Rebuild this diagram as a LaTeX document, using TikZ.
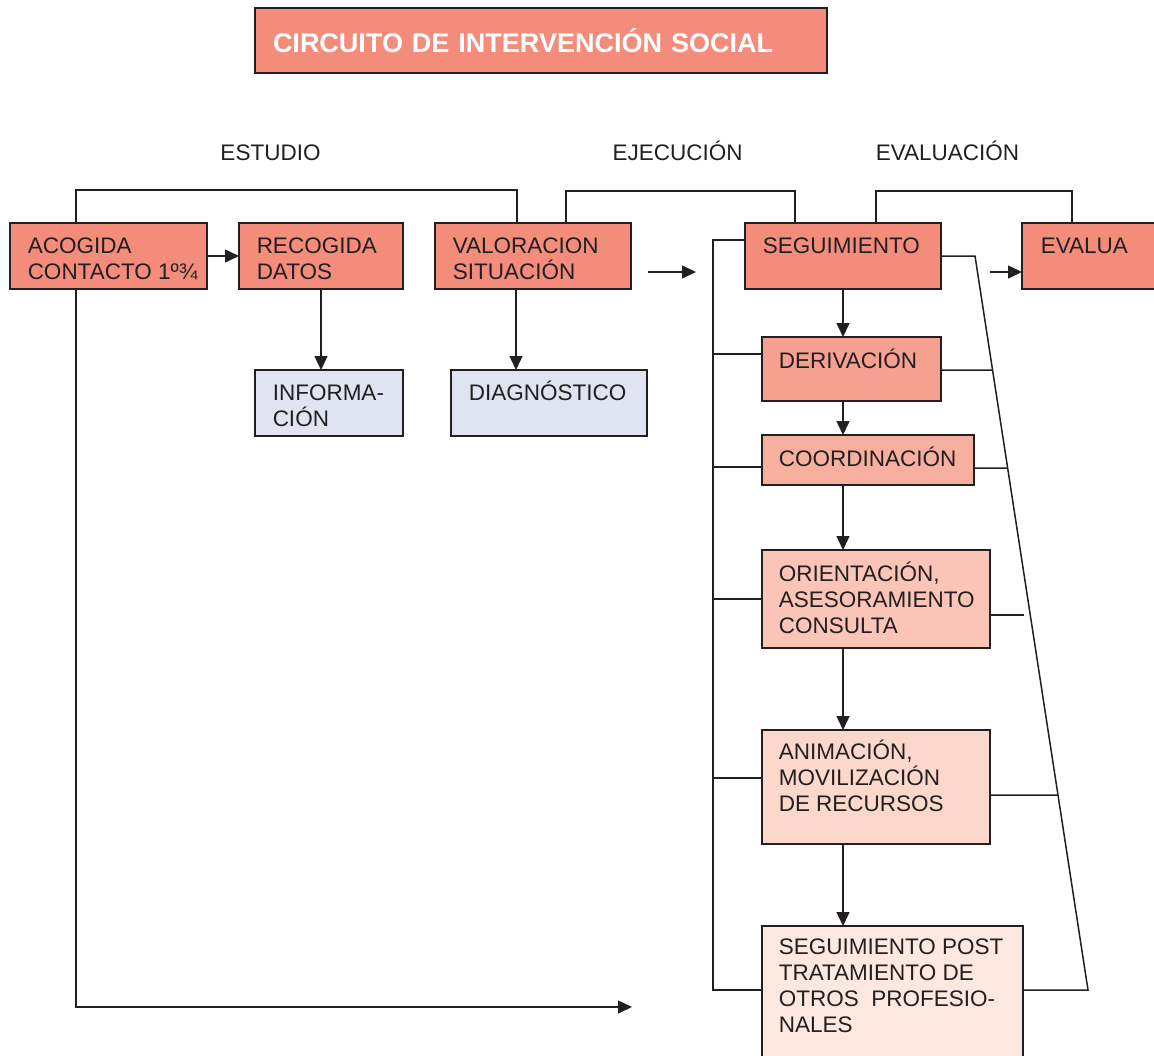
\documentclass[tikz,border=0pt]{standalone}
\usepackage{fontspec}
\setmainfont{Liberation Sans}
\usetikzlibrary{arrows.meta,intersections}

\definecolor{ink}{HTML}{231F20}
\definecolor{salmon}{HTML}{F48C7C}
\definecolor{tintA}{HTML}{F5A090}
\definecolor{tintB}{HTML}{F7B09F}
\definecolor{tintC}{HTML}{FAC4B6}
\definecolor{tintD}{HTML}{FCD8CC}
\definecolor{tintE}{HTML}{FDE8E0}
\definecolor{lavender}{HTML}{E0E3F1}

\begin{document}
\begin{tikzpicture}[x=1pt, y=1pt, line width=1.5pt, draw=ink,
  box/.style={draw=ink, line width=1.6pt, anchor=north west, inner sep=0pt, outer sep=0pt},
  txt/.style={anchor=north west, inner sep=0pt, align=left, text=ink,
              font=\fontsize{22.5}{26}\selectfont},
  stage/.style={anchor=base, inner sep=0pt, text=ink, font=\fontsize{22.5}{26}\selectfont},
  arr/.style={-{Triangle[length=14pt,width=13pt]}},
]
\useasboundingbox (0,0) rectangle (1154,-1055);
\clip (0,0) rectangle (1154,-1055);

% title
\node[box, fill=salmon, minimum width=572pt, minimum height=65pt, text width=536pt,
      inner xsep=18pt, align=left, text=white,
      font=\bfseries\fontsize{27}{30}\selectfont] (title) at (255,-8)
      {CIRCUITO DE INTERVENCIÓN SOCIAL};

% phase labels
\node[stage] (estudio) at (270.5,-160) {ESTUDIO};
\node[stage] (ejecucion) at (677.5,-160) {EJECUCIÓN};
\node[stage] (evaluacion) at (947.5,-160) {EVALUACIÓN};

% top row
\node[box, fill=salmon, minimum width=197pt, minimum height=66pt] (acogida) at (10,-223) {};
\node[txt] (acogida-t) at ([shift={(17,-6)}]acogida.north west) {\rule{0pt}{24pt}ACOGIDA\\CONTACTO 1º¾};
\node[box, fill=salmon, minimum width=164pt, minimum height=66pt] (recogida) at (239,-223) {};
\node[txt] (recogida-t) at ([shift={(17,-6)}]recogida.north west) {\rule{0pt}{24pt}RECOGIDA\\DATOS};
\node[box, fill=salmon, minimum width=196pt, minimum height=66pt] (valoracion) at (435,-223) {};
\node[txt] (valoracion-t) at ([shift={(17,-6)}]valoracion.north west) {\rule{0pt}{24pt}VALORACION\\SITUACIÓN};
\node[box, fill=salmon, minimum width=196pt, minimum height=66pt] (seguimiento) at (745,-223) {};
\node[txt] (seguimiento-t) at ([shift={(17,-6)}]seguimiento.north west) {\rule{0pt}{24pt}SEGUIMIENTO};
\node[box, fill=salmon, minimum width=160pt, minimum height=66pt] (evalua) at (1022,-223) {};
\node[txt] (evalua-t) at ([shift={(18,-6)}]evalua.north west) {\rule{0pt}{24pt}EVALUA};

% study results
\node[box, fill=lavender, minimum width=148pt, minimum height=66pt] (informacion) at (255,-370) {};
\node[txt] (informacion-t) at ([shift={(17,-6)}]informacion.north west) {\rule{0pt}{24pt}INFORMA-\\CIÓN};
\node[box, fill=lavender, minimum width=196pt, minimum height=66pt] (diagnostico) at (451,-370) {};
\node[txt] (diagnostico-t) at ([shift={(17,-6)}]diagnostico.north west) {\rule{0pt}{24pt}DIAGNÓSTICO};

% execution column
\node[box, fill=tintA, minimum width=179pt, minimum height=64pt] (derivacion) at (762,-337) {};
\node[txt] (derivacion-t) at ([shift={(16,-7)}]derivacion.north west) {\rule{0pt}{24pt}DERIVACIÓN};
\node[box, fill=tintB, minimum width=212pt, minimum height=50pt] (coordinacion) at (762,-435) {};
\node[txt] (coordinacion-t) at ([shift={(16,-7)}]coordinacion.north west) {\rule{0pt}{24pt}COORDINACIÓN};
\node[box, fill=tintC, minimum width=228pt, minimum height=98pt] (orientacion) at (762,-550) {};
\node[txt] (orientacion-t) at ([shift={(16,-7)}]orientacion.north west) {\rule{0pt}{24pt}ORIENTACIÓN,\\ASESORAMIENTO\\CONSULTA};
\node[box, fill=tintD, minimum width=228pt, minimum height=114pt] (animacion) at (762,-730) {};
\node[txt] (animacion-t) at ([shift={(16,-5)}]animacion.north west) {\rule{0pt}{24pt}ANIMACIÓN,\\MOVILIZACIÓN\\DE RECURSOS};
\node[box, fill=tintE, minimum width=261pt, minimum height=150pt] (segpost) at (762,-926) {};
\node[txt] (segpost-t) at ([shift={(16,-4)}]segpost.north west) {\rule{0pt}{24pt}SEGUIMIENTO POST\\TRATAMIENTO DE\\OTROS~~PROFESIO-\\NALES};

% phase brackets
\draw ([xshift=66pt]acogida.north west) -- ++(0,33) -| ([xshift=82pt]valoracion.north west);
\draw ([xshift=131pt]valoracion.north west) -- ++(0,32) -| ([xshift=50pt]seguimiento.north west);
\draw ([xshift=131pt]seguimiento.north west) -- ++(0,32) -| ([xshift=50pt]evalua.north west);

% study flow
\draw[arr] (acogida.east) -- (recogida.west);
\draw[arr] (recogida.south) -- (recogida.south |- informacion.north);
\coordinate (va) at ([xshift=81pt]valoracion.south west);
\draw[arr] (va) -- (va |- diagnostico.north);
\coordinate (fa1) at (648,-272);
\coordinate (fa1e) at (696,-272);
\draw[arr] (fa1) -- (fa1e);
\coordinate (fa2) at (990,-272);
\draw[arr] (fa2) -- (fa2 -| evalua.west);
\coordinate (loopend) at (632,-1007);
\draw[arr] ([xshift=66pt]acogida.south west) |- (loopend);

% execution chain
\coordinate (axis) at (seguimiento.south);
\draw[arr] (axis) -- (axis |- derivacion.north);
\draw[arr] (axis |- derivacion.south) -- (axis |- coordinacion.north);
\draw[arr] (axis |- coordinacion.south) -- (axis |- orientacion.north);
\draw[arr] (axis |- orientacion.south) -- (axis |- animacion.north);
\draw[arr] (axis |- animacion.south) -- (axis |- segpost.north);

% left feedback rail
\coordinate (lx) at (713,0);
\coordinate (sp-l) at ([yshift=-64pt]segpost.north west);
\draw ([yshift=-17pt]seguimiento.north west) -| (lx |- sp-l) -- (sp-l);
\foreach \b/\dy in {derivacion/17, coordinacion/32, orientacion/49, animacion/48} {
  \coordinate (t) at ([yshift=-\dy pt]\b.north west);
  \draw (t) -- (lx |- t);
}

% right evaluation rail
\coordinate (rtop) at (975,-256);
\coordinate (rbot) at (1088,-990);
\coordinate (sp-r) at ([yshift=-64pt]segpost.north east);
\draw (seguimiento.east) -- (rtop) -- (rbot) -- (sp-r);
\path[name path=diag] (rtop) -- (rbot);
\foreach \b/\dy in {derivacion/33, coordinacion/33, animacion/65} {
  \coordinate (s) at ([yshift=-\dy pt]\b.north east);
  \path[name path=hline] (s) -- ++(300,0);
  \draw[name intersections={of=diag and hline}] (s) -- (intersection-1);
}
% this tick stops just short of the rail
\coordinate (so) at ([yshift=-65pt]orientacion.north east);
\draw (so) -- ++(34,0);
\end{tikzpicture}
\end{document}
